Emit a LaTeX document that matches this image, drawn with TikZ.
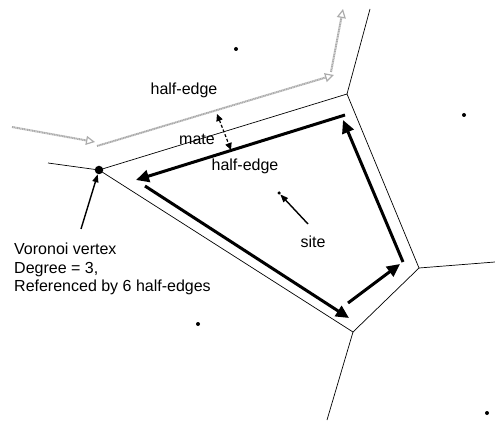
\documentclass[tikz,border=0pt]{standalone}
\usepackage{fontspec}
\setmainfont{Liberation Sans}
\usetikzlibrary{arrows.meta}
\begin{document}
\begin{tikzpicture}[x=1pt,y=-1pt,
  vedge/.style={line width=0.7pt},
  thick arrow/.style={line width=3pt,-{Triangle[length=13pt,width=12pt]}},
  grey arrow/.style={gray!65,line width=2pt,dash pattern=on 1.2pt off 0.5pt,-{Triangle[open,length=9pt,width=9pt,line width=1.2pt]}},
  label text/.style={font=\fontsize{16}{18.5}\selectfont,inner sep=0pt},
  pointer/.style={line width=1.4pt,-{Triangle[length=8pt,width=6pt]}},
  site dot/.style={circle,fill=black,inner sep=0pt,minimum size=4pt}]
\useasboundingbox (0,0) rectangle (495,422);
% Voronoi vertices
\coordinate (v1) at (99,170);
\coordinate (v2) at (347,94);
\coordinate (v3) at (419,268);
\coordinate (v4) at (353,332);
\coordinate (e1) at (48,163);
\coordinate (e2) at (370,9);
\coordinate (e3) at (495,262);
\coordinate (e4) at (327,420);
% Voronoi edges
\draw[vedge] (v1) -- (v2) -- (v3) -- (v4) -- cycle;
\draw[vedge] (v1) -- (e1);
\draw[vedge] (v2) -- (e2);
\draw[vedge] (v3) -- (e3);
\draw[vedge] (v4) -- (e4);
\node[circle,fill=black,inner sep=0pt,minimum size=8.5pt] (vv) at (v1) {};
% sites
\node[site dot] (s1) at (236,49) {};
\node[site dot] (s2) at (464,115) {};
\node[site dot,minimum size=3.5pt] (s0) at (279,193) {};
\node[site dot] (s3) at (198,324) {};
\node[site dot] (s4) at (487,413) {};
% inner half-edges
\coordinate (a1s) at (345,115); \coordinate (a1e) at (136,180);
\coordinate (a2s) at (145,186); \coordinate (a2e) at (349,318);
\coordinate (a3s) at (348,303); \coordinate (a3e) at (400,264);
\coordinate (a4s) at (403,262); \coordinate (a4e) at (343,120);
\draw[thick arrow] (a1s) -- (a1e);
\draw[thick arrow] (a2s) -- (a2e);
\draw[thick arrow] (a3s) -- (a3e);
\draw[thick arrow] (a4s) -- (a4e);
% outer (mate) half-edges, grey
\coordinate (g0) at (12,127);
\coordinate (g1) at (95,142);
\coordinate (g2) at (97,146);
\coordinate (g3) at (334,75);
\coordinate (g4) at (331,72);
\coordinate (g5) at (343,9);
\draw[grey arrow] (g0) -- (g1);
\draw[grey arrow] (g2) -- (g3);
\draw[grey arrow] (g4) -- (g5);
% mate arrow
\coordinate (m1) at (217,114);
\coordinate (m2) at (231,150);
\draw[line width=1.2pt,dash pattern=on 3pt off 2pt,{Triangle[length=7pt,width=6.5pt]}-{Triangle[length=7pt,width=6.5pt]}] (m1) -- (m2);
% labels
\node[label text] (he1) at (184,90) {half-edge};
\node[label text] (mate) at (197,139) {mate};
\node[label text] (he2) at (245,166) {half-edge};
\node[label text] (site) at (313,242) {site};
\node[label text,align=left,anchor=north west] (vlab) at (14,243) {Voronoi vertex\\Degree = 3,\\Referenced by 6 half-edges};
% pointers
\coordinate (p1) at (308,224);
\draw[pointer] (p1) -- (s0);
\coordinate (p2) at (81,229);
\draw[pointer] (p2) -- (vv);
\end{tikzpicture}
\end{document}
